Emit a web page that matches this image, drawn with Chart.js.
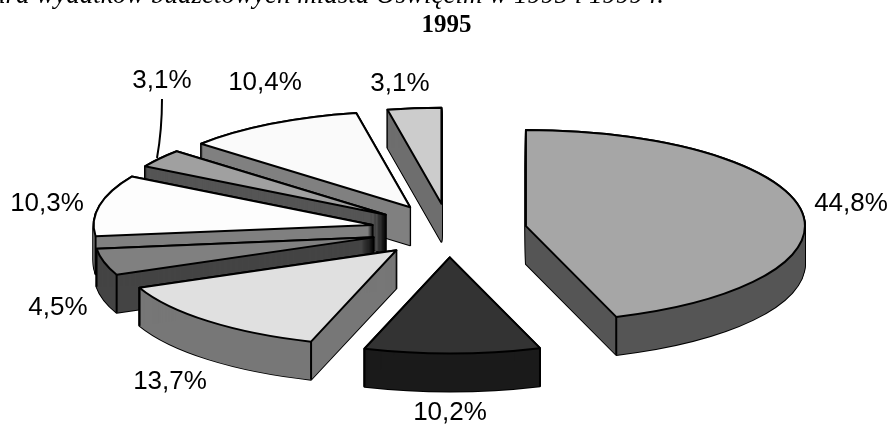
<!DOCTYPE html>
<html>
<head>
<meta charset="utf-8">
<style>
  html, body { margin: 0; padding: 0; background: #fff; overflow: hidden; }
  #wrap { position: relative; width: 890px; height: 425px; }
</style>
<script src="https://cdn.jsdelivr.net/npm/chart.js@4"></script>
</head>
<body>
<div id="wrap"><canvas id="pie-chart"></canvas></div>
<script>
const categories = ['a', 'b', 'c', 'd', 'e', 'f', 'g', 'h'];
const shares = [44.8, 10.2, 13.7, 4.5, 10.3, 3.1, 10.4, 3.1];
const shareLabels = ['44,8%', '10,2%', '13,7%', '4,5%', '10,3%', '3,1%', '10,4%', '3,1%'];
const topColors = ['#a6a6a6', '#333333', '#e0e0e0', '#808080', '#fdfdfd', '#a0a0a0', '#fafafa', '#cccccc'];
const wallColors = ['#555555', '#1a1a1a', '#777777', '#444444', '#808080', '#555555', '#808080', '#6e6e6e'];
const labelSpots = [[851, 204], [450, 413], [170, 382], [58, 308], [47, 204], [162, 81], [265, 83], [400, 84]];
const headingText = 'Struktura wydatków budżetowych miasta Oświęcim w 1995 i 1999 r.';
const yearText = '1995';

const squash = 0.344;   // tilt of the pie
const depth = 38;
const explode = 78;

const slicePath = (ctx, arc, dy) => {
  const mid = (arc.startAngle + arc.endAngle) / 2;
  const x = arc.x + Math.cos(mid) * explode;
  const y = arc.y + Math.sin(mid) * explode * squash + dy;
  ctx.beginPath();
  ctx.moveTo(x, y);
  ctx.ellipse(x, y, arc.outerRadius, arc.outerRadius * squash, 0, arc.startAngle, arc.endAngle);
  ctx.closePath();
};

const pie3d = {
  id: 'pie3d',
  beforeDatasetDraw(chart) {
    const ctx = chart.ctx;
    const arcs = chart.getDatasetMeta(0).data;
    ctx.save();
    ctx.lineJoin = 'round';
    ctx.lineWidth = 2;
    ctx.strokeStyle = '#000';
    // last slice is furthest back, paint towards the front
    for (let i = arcs.length - 1; i >= 0; i--) {
      const arc = arcs[i];
      const mid = (arc.startAngle + arc.endAngle) / 2;
      const ox = arc.x + Math.cos(mid) * explode;
      const oy = arc.y + Math.sin(mid) * explode * squash;

      for (let d = 0; d <= depth; d++) {
        slicePath(ctx, arc, d);
        ctx.stroke();
      }
      ctx.fillStyle = wallColors[i];
      for (let d = 0; d <= depth; d++) {
        slicePath(ctx, arc, d);
        ctx.fill();
      }
      // wall corners, only the ones on the front half can be seen
      [arc.startAngle, arc.endAngle].forEach(a => {
        if (Math.sin(a) <= 0) return;
        const cx = ox + Math.cos(a) * arc.outerRadius;
        const cy = oy + Math.sin(a) * arc.outerRadius * squash;
        ctx.beginPath();
        ctx.moveTo(cx, cy);
        ctx.lineTo(cx, cy + depth);
        ctx.stroke();
      });

      // top face: library arc, squashed into place
      ctx.save();
      ctx.translate(ox, oy);
      ctx.scale(1, squash);
      ctx.translate(-arc.x, -arc.y);
      arc.draw(ctx);
      ctx.restore();
      slicePath(ctx, arc, 0);
      ctx.stroke();
    }
    ctx.restore();
    return false;
  },
  afterDraw(chart) {
    const ctx = chart.ctx;
    ctx.save();
    ctx.fillStyle = '#000';
    ctx.textAlign = 'center';
    ctx.textBaseline = 'middle';
    ctx.font = '26px "Liberation Sans"';
    shareLabels.forEach((t, i) => ctx.fillText(t, labelSpots[i][0], labelSpots[i][1]));

    ctx.strokeStyle = '#000';
    ctx.lineWidth = 2;
    ctx.beginPath();
    ctx.moveTo(162, 99);
    ctx.quadraticCurveTo(162, 130, 157, 158);
    ctx.stroke();

    ctx.textBaseline = 'alphabetic';
    ctx.font = 'bold 25px "Liberation Serif"';
    ctx.fillText(yearText, 446.5, 32);
    ctx.font = 'italic 27px "Liberation Serif"';
    ctx.textAlign = 'right';
    ctx.fillText(headingText, 664, 3);
    ctx.restore();
  }
};

new Chart(document.getElementById('pie-chart').getContext('2d'), {
  type: 'pie',
  data: {
    labels: categories,
    datasets: [{
      data: shares,
      backgroundColor: topColors,
      borderWidth: 0,
      radius: 279
    }]
  },
  options: {
    responsive: true,
    maintainAspectRatio: false,
    animation: false,
    layout: { padding: { left: 8, top: 36 } },
    plugins: {
      legend: { display: false },
      tooltip: { enabled: false }
    }
  },
  plugins: [pie3d]
});
</script>
</body>
</html>
